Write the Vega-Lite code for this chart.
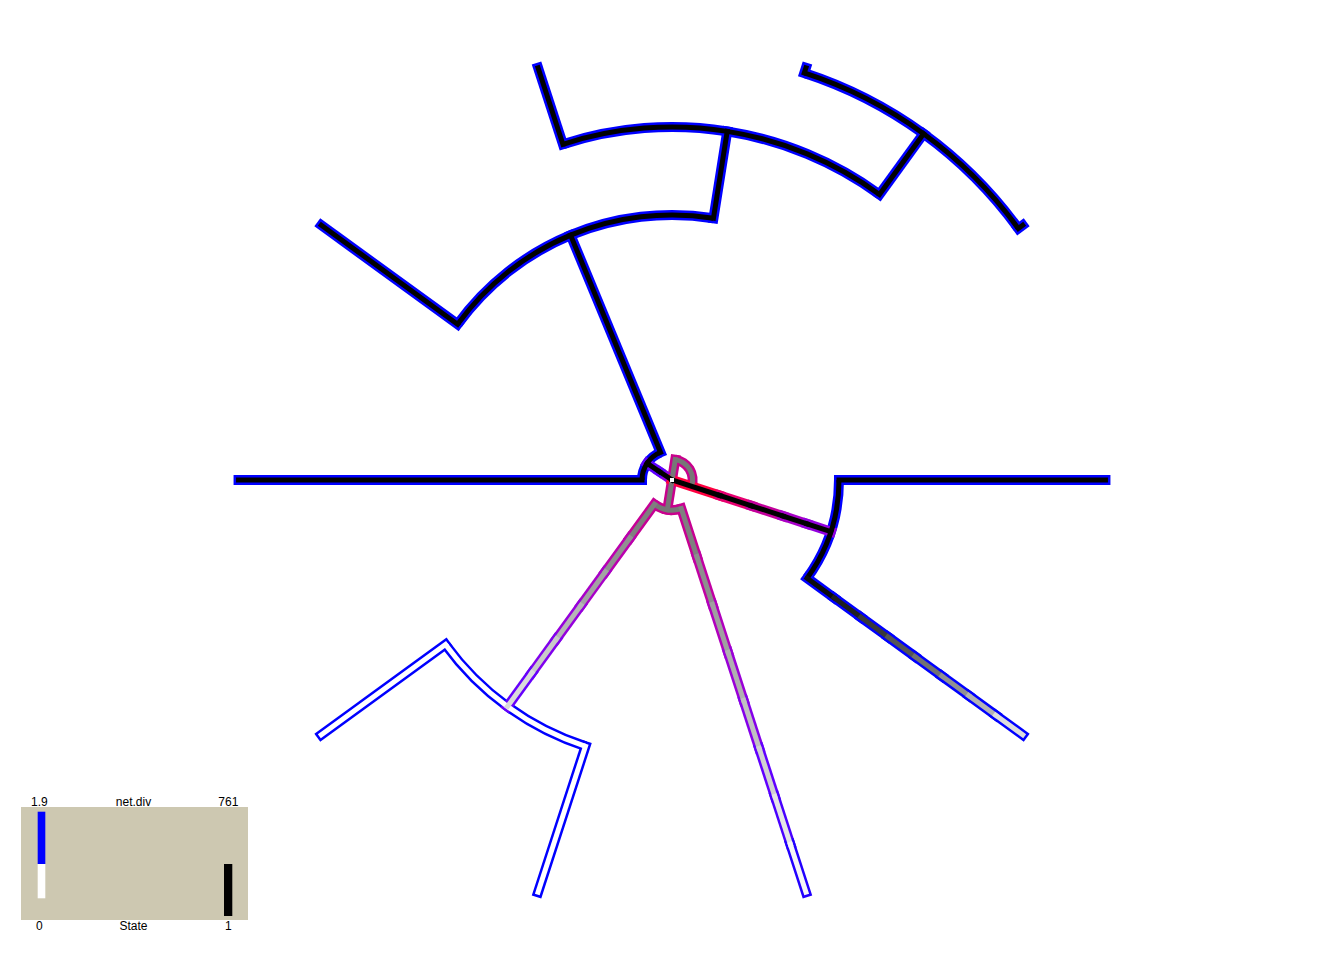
{
  "$schema": "https://vega.github.io/schema/vega-lite/v6.json",
  "width": 1344,
  "height": 960,
  "autosize": {"type": "fit", "contains": "padding"},
  "padding": 0,
  "background": "white",
  "config": {"view": {"stroke": null}},
  "datasets": {
    "arcs": [
      {"node": "C", "t1": 18, "t2": 54, "r": 0.8917, "netdiv": 1.9, "state": 1},
      {"node": "B", "t1": -18, "t2": 36, "r": 0.7354, "netdiv": 1.9, "state": 1},
      {"node": "A", "t1": -54, "t2": 9, "r": 0.5521, "netdiv": 1.9, "state": 1},
      {"node": "D", "t1": -90, "t2": -22.5, "r": 0.0625, "netdiv": 1.9, "state": 1},
      {"node": "E", "t1": 90, "t2": 126, "r": 0.3479, "netdiv": 1.9, "state": 1},
      {"node": "G", "t1": -162, "t2": -126, "r": 0.5833, "netdiv": 1.9, "state": 0},
      {"node": "F", "t1": -198, "t2": -144, "r": 0.0625, "netdiv": 570, "state": 0.5},
      {"node": "H", "t1": 9, "t2": 108, "r": 0.043, "netdiv": 570, "state": 0.5}
    ],
    "segs": [
      {"edge": "C-t72", "x": 0.27555, "y": 0.84806, "x2": 0.27904, "y2": 0.8588, "netdiv": 1.9, "state": 1},
      {"edge": "C-t36", "x": 0.7214, "y": 0.52413, "x2": 0.73054, "y2": 0.53077, "netdiv": 1.9, "state": 1},
      {"edge": "B-C", "x": 0.43226, "y": 0.59495, "x2": 0.52413, "y2": 0.7214, "netdiv": 1.9, "state": 1},
      {"edge": "B-t108", "x": -0.22725, "y": 0.69941, "x2": -0.27904, "y2": 0.8588, "netdiv": 1.9, "state": 1},
      {"edge": "A-B", "x": 0.08637, "y": 0.5453, "x2": 0.11504, "y2": 0.72635, "netdiv": 1.9, "state": 1},
      {"edge": "A-t144", "x": -0.44666, "y": 0.32452, "x2": -0.73054, "y2": 0.53077, "netdiv": 1.9, "state": 1},
      {"edge": "D-A", "x": -0.02392, "y": 0.05774, "x2": -0.21128, "y2": 0.51007, "netdiv": 1.9, "state": 1},
      {"edge": "D-t180", "x": -0.0625, "y": 0, "x2": -0.903, "y2": 0, "netdiv": 1.9, "state": 1},
      {"edge": "E-t0", "x": 0.3479, "y": 0, "x2": 0.903, "y2": 0, "netdiv": 1.9, "state": 1},
      {"edge": "G-t216", "x": -0.4719, "y": -0.34285, "x2": -0.73054, "y2": -0.53077, "netdiv": 1.9, "state": 0},
      {"edge": "G-t252", "x": -0.18025, "y": -0.55475, "x2": -0.27904, "y2": -0.8588, "netdiv": 1.9, "state": 0},
      {"edge": "E-t324", "x": 0.28146, "y": -0.20449, "x2": 0.3376, "y2": -0.24528, "netdiv": 1.9, "state": 0.97},
      {"edge": "E-t324", "x": 0.3376, "y": -0.24528, "x2": 0.39373, "y2": -0.28606, "netdiv": 1.9, "state": 0.88},
      {"edge": "E-t324", "x": 0.39373, "y": -0.28606, "x2": 0.44987, "y2": -0.32685, "netdiv": 1.9, "state": 0.76},
      {"edge": "E-t324", "x": 0.44987, "y": -0.32685, "x2": 0.506, "y2": -0.36763, "netdiv": 1.9, "state": 0.64},
      {"edge": "E-t324", "x": 0.506, "y": -0.36763, "x2": 0.56214, "y2": -0.40842, "netdiv": 1.9, "state": 0.52},
      {"edge": "E-t324", "x": 0.56214, "y": -0.40842, "x2": 0.61827, "y2": -0.4492, "netdiv": 1.9, "state": 0.4},
      {"edge": "E-t324", "x": 0.61827, "y": -0.4492, "x2": 0.67441, "y2": -0.48999, "netdiv": 1.9, "state": 0.27},
      {"edge": "E-t324", "x": 0.67441, "y": -0.48999, "x2": 0.73054, "y2": -0.53077, "netdiv": 1.9, "state": 0.12},
      {"edge": "H-F", "x": 0.00673, "y": 0.04247, "x2": -0.00978, "y2": -0.06173, "netdiv": 570, "state": 0.5},
      {"edge": "F-G", "x": -0.03674, "y": -0.05056, "x2": -0.08776, "y2": -0.12078, "netdiv": 540, "state": 0.47},
      {"edge": "F-G", "x": -0.08776, "y": -0.12078, "x2": -0.13878, "y2": -0.191, "netdiv": 470, "state": 0.4},
      {"edge": "F-G", "x": -0.13878, "y": -0.191, "x2": -0.1898, "y2": -0.26123, "netdiv": 400, "state": 0.33},
      {"edge": "F-G", "x": -0.1898, "y": -0.26123, "x2": -0.24081, "y2": -0.33145, "netdiv": 330, "state": 0.26},
      {"edge": "F-G", "x": -0.24081, "y": -0.33145, "x2": -0.29183, "y2": -0.40167, "netdiv": 260, "state": 0.19},
      {"edge": "F-G", "x": -0.29183, "y": -0.40167, "x2": -0.34285, "y2": -0.4719, "netdiv": 200, "state": 0.13},
      {"edge": "F-t288", "x": 0.01931, "y": -0.05944, "x2": 0.05178, "y2": -0.15936, "netdiv": 550, "state": 0.47},
      {"edge": "F-t288", "x": 0.05178, "y": -0.15936, "x2": 0.08424, "y2": -0.25928, "netdiv": 500, "state": 0.41},
      {"edge": "F-t288", "x": 0.08424, "y": -0.25928, "x2": 0.11671, "y2": -0.3592, "netdiv": 430, "state": 0.34},
      {"edge": "F-t288", "x": 0.11671, "y": -0.3592, "x2": 0.14918, "y2": -0.45912, "netdiv": 350, "state": 0.28},
      {"edge": "F-t288", "x": 0.14918, "y": -0.45912, "x2": 0.18164, "y2": -0.55904, "netdiv": 270, "state": 0.22},
      {"edge": "F-t288", "x": 0.18164, "y": -0.55904, "x2": 0.21411, "y2": -0.65896, "netdiv": 190, "state": 0.16},
      {"edge": "F-t288", "x": 0.21411, "y": -0.65896, "x2": 0.24657, "y2": -0.75888, "netdiv": 110, "state": 0.09},
      {"edge": "F-t288", "x": 0.24657, "y": -0.75888, "x2": 0.27904, "y2": -0.8588, "netdiv": 30, "state": 0.03},
      {"edge": "root-D", "x": 0, "y": 0, "x2": -0.02599, "y2": 0.01736, "netdiv": 300, "state": 1},
      {"edge": "root-D", "x": -0.02599, "y": 0.01736, "x2": -0.05197, "y2": 0.03472, "netdiv": 180, "state": 1},
      {"edge": "root-E", "x": 0, "y": 0, "x2": 0.09926, "y2": -0.03225, "netdiv": 761, "state": 1},
      {"edge": "root-E", "x": 0.09926, "y": -0.03225, "x2": 0.16544, "y2": -0.05376, "netdiv": 650, "state": 1},
      {"edge": "root-E", "x": 0.16544, "y": -0.05376, "x2": 0.23161, "y2": -0.07526, "netdiv": 520, "state": 1},
      {"edge": "root-E", "x": 0.23161, "y": -0.07526, "x2": 0.28124, "y2": -0.09138, "netdiv": 400, "state": 1},
      {"edge": "root-E", "x": 0.28124, "y": -0.09138, "x2": 0.33087, "y2": -0.10751, "netdiv": 320, "state": 1}
    ],
    "rootpoint": [{"x": 0, "y": 0}],
    "legbars": [
      {"part": "box", "x": -1.35625, "x2": -0.88333, "y": -0.68125, "y2": -0.91667},
      {"part": "blue", "x": -1.3215, "x2": -1.3056, "y": -0.69104, "y2": -0.8},
      {"part": "white", "x": -1.3215, "x2": -1.3056, "y": -0.8, "y2": -0.87146},
      {"part": "black", "x": -0.93333, "x2": -0.91604, "y": -0.8, "y2": -0.90833}
    ],
    "legtext": [
      {"label": "1.9", "x": -1.31813, "y": -0.6799},
      {"label": "net.div", "x": -1.12188, "y": -0.6799},
      {"label": "761", "x": -0.92438, "y": -0.6799},
      {"label": "0", "x": -1.31813, "y": -0.9385},
      {"label": "State", "x": -1.12188, "y": -0.9385},
      {"label": "1", "x": -0.92438, "y": -0.9385}
    ]
  },
  "layer": [
    {
      "data": {"name": "arcs"},
      "mark": {"type": "arc", "radiusOffset": 5, "radius2Offset": -5},
      "encoding": {
        "theta": {"field": "t1", "type": "quantitative", "stack": null, "scale": {"type": "linear", "domain": [0, 360], "range": [0, 6.283185307179586], "zero": false, "nice": false}},
        "theta2": {"field": "t2"},
        "radius": {"field": "r", "type": "quantitative", "scale": {"type": "linear", "domain": [0, 1], "range": [0, 480], "zero": true, "nice": false}},
        "radius2": {"field": "r"},
        "fill": {"field": "netdiv", "type": "quantitative", "legend": null, "scale": {"type": "linear", "domain": [1.9, 190, 380, 570, 761], "range": ["#0000ff", "#6000ff", "#a000d0", "#c8008c", "#ff0040"]}}
      }
    },
    {
      "data": {"name": "segs"},
      "mark": {"type": "rule", "strokeWidth": 10, "strokeCap": "square"},
      "encoding": {
        "x": {"field": "x", "type": "quantitative", "axis": null, "scale": {"domain": [-1.4, 1.4], "nice": false, "zero": false}},
        "y": {"field": "y", "type": "quantitative", "axis": null, "scale": {"domain": [-1, 1], "nice": false, "zero": false}},
        "x2": {"field": "x2"},
        "y2": {"field": "y2"},
        "stroke": {"field": "netdiv", "type": "quantitative", "legend": null, "scale": {"type": "linear", "domain": [1.9, 190, 380, 570, 761], "range": ["#0000ff", "#6000ff", "#a000d0", "#c8008c", "#ff0040"]}}
      }
    },
    {
      "data": {"name": "arcs"},
      "mark": {"type": "arc", "radiusOffset": 2.5, "radius2Offset": -2.5},
      "encoding": {
        "theta": {"field": "t1", "type": "quantitative", "stack": null, "scale": {"type": "linear", "domain": [0, 360], "range": [0, 6.283185307179586], "zero": false, "nice": false}},
        "theta2": {"field": "t2"},
        "radius": {"field": "r", "type": "quantitative", "scale": {"type": "linear", "domain": [0, 1], "range": [0, 480], "zero": true, "nice": false}},
        "radius2": {"field": "r"},
        "fill": {"field": "state", "type": "quantitative", "legend": null, "scale": {"type": "linear", "domain": [0, 1], "range": ["#ffffff", "#000000"]}}
      }
    },
    {
      "data": {"name": "segs"},
      "mark": {"type": "rule", "strokeWidth": 5, "strokeCap": "square"},
      "encoding": {
        "x": {"field": "x", "type": "quantitative", "axis": null, "scale": {"domain": [-1.4, 1.4], "nice": false, "zero": false}},
        "y": {"field": "y", "type": "quantitative", "axis": null, "scale": {"domain": [-1, 1], "nice": false, "zero": false}},
        "x2": {"field": "x2"},
        "y2": {"field": "y2"},
        "stroke": {"field": "state", "type": "quantitative", "legend": null, "scale": {"type": "linear", "domain": [0, 1], "range": ["#ffffff", "#000000"]}}
      }
    },
    {
      "data": {"name": "rootpoint"},
      "mark": {"type": "square", "size": 16, "filled": true, "color": "white", "opacity": 1},
      "encoding": {
        "x": {"field": "x", "type": "quantitative", "axis": null, "scale": {"domain": [-1.4, 1.4], "nice": false, "zero": false}},
        "y": {"field": "y", "type": "quantitative", "axis": null, "scale": {"domain": [-1, 1], "nice": false, "zero": false}}
      }
    },
    {
      "data": {"name": "legbars"},
      "mark": {"type": "rect"},
      "encoding": {
        "x": {"field": "x", "type": "quantitative", "axis": null, "scale": {"domain": [-1.4, 1.4], "nice": false, "zero": false}},
        "y": {"field": "y", "type": "quantitative", "axis": null, "scale": {"domain": [-1, 1], "nice": false, "zero": false}},
        "x2": {"field": "x2"},
        "y2": {"field": "y2"},
        "fill": {"field": "part", "type": "nominal", "legend": null, "scale": {"domain": ["box", "blue", "white", "black"], "range": ["#cdc8b1", "#0000ff", "#ffffff", "#000000"]}}
      }
    },
    {
      "data": {"name": "legtext"},
      "mark": {"type": "text", "font": "Liberation Sans", "fontSize": 12, "align": "center", "baseline": "alphabetic", "color": "black"},
      "encoding": {
        "x": {"field": "x", "type": "quantitative", "axis": null, "scale": {"domain": [-1.4, 1.4], "nice": false, "zero": false}},
        "y": {"field": "y", "type": "quantitative", "axis": null, "scale": {"domain": [-1, 1], "nice": false, "zero": false}},
        "text": {"field": "label"}
      }
    }
  ],
  "resolve": {"scale": {"fill": "independent", "stroke": "independent"}}
}
